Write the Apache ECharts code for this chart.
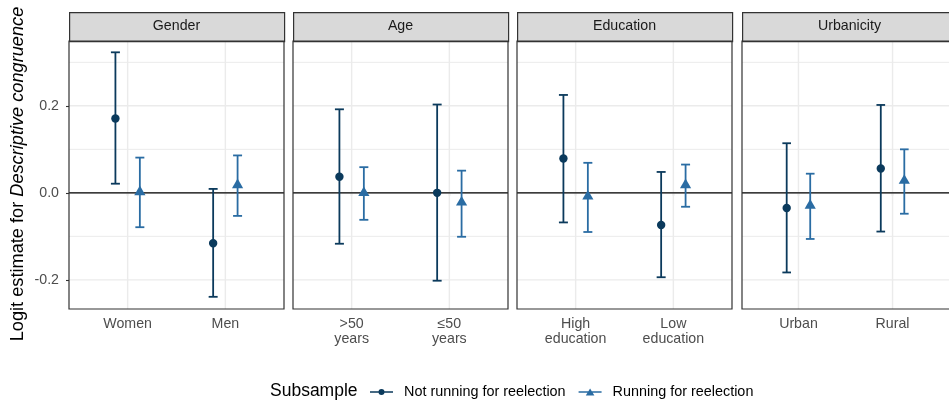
<!DOCTYPE html>
<html>
<head>
<meta charset="utf-8">
<script src="https://cdn.jsdelivr.net/npm/echarts@6/dist/echarts.min.js"></script>
<style>
html,body{margin:0;padding:0;background:#fff;}
#chart{width:949px;height:405px;}
</style>
</head>
<body>
<div id="chart"></div>
<script>
// ---- data ----
const panels = ['Gender', 'Age', 'Education', 'Urbanicity'];
const categories = [
  ['Women', 'Men'],
  ['>50\nyears', '\u226450\nyears'],
  ['High\neducation', 'Low\neducation'],
  ['Urban', 'Rural']
];
const seriesNames = ['Not running for reelection', 'Running for reelection'];
const notRunningEst  = [[0.171, -0.116], [0.037, 0.000], [0.079, -0.074], [-0.035, 0.056]];
const notRunningLow  = [[0.021, -0.239], [-0.117, -0.202], [-0.068, -0.194], [-0.183, -0.089]];
const notRunningHigh = [[0.323, 0.009], [0.192, 0.203], [0.225, 0.048], [0.114, 0.202]];
const runningEst  = [[0.002, 0.018], [0.000, -0.022], [-0.008, 0.018], [-0.029, 0.028]];
const runningLow  = [[-0.079, -0.053], [-0.062, -0.101], [-0.090, -0.032], [-0.106, -0.048]];
const runningHigh = [[0.081, 0.086], [0.059, 0.051], [0.069, 0.065], [0.044, 0.100]];
const majorBreaks = [-0.2, 0, 0.2];
const minorBreaks = [-0.1, 0.1, 0.3];
const yTickLabels = ['-0.2', '0.0', '0.2'];
const refLine = [0];
const yTitle = ['Logit estimate for ', 'Descriptive congruence'];
const legendTitle = 'Subsample';

// ---- style / layout ----
const FONT = 'Liberation Sans, Arial, sans-serif';
const colors = ['#0b3a5c', '#2a6ca3'];
const panelLeft = [69, 293, 517, 742];
const panelW = 215, panelTop = 41, panelH = 268, stripTop = 12;
const yMin = -0.267, yMax = 0.349;
const dodge = 0.125, capHalf = 0.046;

const chart = echarts.init(document.getElementById('chart'), null, {renderer: 'canvas'});

const grids = [], xAxes = [], yAxes = [], series = [], graphics = [];

panels.forEach((p, i) => {
  grids.push({left: panelLeft[i], top: panelTop, width: panelW, height: panelH, show: false});
  xAxes.push({
    type: 'value', gridIndex: i, min: 0.4, max: 2.6,
    axisLine: {show: false},
    splitLine: {show: false},
    axisTick: {show: true, customValues: [1, 2], length: 3, lineStyle: {color: '#333', width: 1.1}},
    axisLabel: {
      customValues: [1, 2], margin: 8, color: '#4d4d4d', fontFamily: FONT, fontSize: 14.2, lineHeight: 15,
      formatter: v => categories[i][Math.round(v) - 1]
    }
  });
  yAxes.push({
    type: 'value', gridIndex: i, min: yMin, max: yMax,
    axisLine: {show: false},
    splitLine: {show: false},
    axisTick: {show: i === 0, customValues: majorBreaks, length: 3, lineStyle: {color: '#333', width: 1.1}},
    axisLabel: {
      show: i === 0, customValues: majorBreaks, margin: 10, color: '#4d4d4d', fontFamily: FONT, fontSize: 14.2,
      formatter: v => {
        let k = 0, best = Infinity;
        majorBreaks.forEach((b, j) => { if (Math.abs(b - v) < best) { best = Math.abs(b - v); k = j; } });
        return yTickLabels[k];
      }
    }
  });

  // grid lines (kind 0: major horizontal, 1: minor horizontal, 2: vertical at categories)
  const gridData = majorBreaks.map(v => [v, 0])
    .concat(minorBreaks.map(v => [v, 1]))
    .concat([1, 2].map(v => [v, 2]));
  series.push({
    type: 'custom', xAxisIndex: i, yAxisIndex: i, z: 1, silent: true,
    data: gridData,
    renderItem: (params, api) => {
      const v = api.value(0), kind = api.value(1);
      const cs = params.coordSys;
      if (kind === 2) {
        const x = api.coord([v, 0])[0];
        return {type: 'line', shape: {x1: x, y1: cs.y, x2: x, y2: cs.y + cs.height},
          style: {stroke: '#ebebeb', lineWidth: 1.4}};
      }
      const y = api.coord([1, v])[1];
      return {type: 'line', shape: {x1: cs.x, y1: y, x2: cs.x + cs.width, y2: y},
        style: {stroke: '#ebebeb', lineWidth: kind === 0 ? 1.4 : 1.0}};
    }
  });
  // reference line at 0
  series.push({
    type: 'custom', xAxisIndex: i, yAxisIndex: i, z: 2, silent: true,
    data: refLine.map(v => [1, v]),
    renderItem: (params, api) => {
      const cs = params.coordSys;
      const y = api.coord([1, api.value(1)])[1];
      return {type: 'line', shape: {x1: cs.x, y1: y, x2: cs.x + cs.width, y2: y},
        style: {stroke: '#000', lineWidth: 1.3}};
    }
  });

  const sets = [
    {est: notRunningEst[i], lo: notRunningLow[i], hi: notRunningHigh[i], off: -dodge, shape: 'circle'},
    {est: runningEst[i], lo: runningLow[i], hi: runningHigh[i], off: dodge, shape: 'triangle'}
  ];
  sets.forEach((s, k) => {
    const color = colors[k];
    series.push({
      type: 'custom', name: seriesNames[k], xAxisIndex: i, yAxisIndex: i, z: 3,
      itemStyle: {color: color},
      encode: {x: 0, y: [1, 2, 3]},
      data: [0, 1].map(j => [j + 1, s.est[j], s.lo[j], s.hi[j]]),
      renderItem: (params, api) => {
        const x = api.value(0) + s.off;
        const est = api.value(1), lo = api.value(2), hi = api.value(3);
        const top = api.coord([x, hi]), bot = api.coord([x, lo]), c = api.coord([x, est]);
        const xl = api.coord([x - capHalf, hi])[0], xr = api.coord([x + capHalf, hi])[0];
        const ls = {stroke: color, lineWidth: 1.8};
        const children = [
          {type: 'line', shape: {x1: top[0], y1: top[1], x2: bot[0], y2: bot[1]}, style: ls},
          {type: 'line', shape: {x1: xl, y1: top[1], x2: xr, y2: top[1]}, style: ls},
          {type: 'line', shape: {x1: xl, y1: bot[1], x2: xr, y2: bot[1]}, style: ls}
        ];
        if (s.shape === 'circle') {
          children.push({type: 'circle', shape: {cx: c[0], cy: c[1], r: 4.2}, style: {fill: color}});
        } else {
          const r = 6.4, yc = 3.2, xc = 5.6;
          children.push({type: 'polygon', shape: {points: [[c[0], c[1] - r], [c[0] + xc, c[1] + yc], [c[0] - xc, c[1] + yc]]},
            style: {fill: color}});
        }
        return {type: 'group', children: children};
      }
    });
  });

  // strip
  graphics.push({
    type: 'rect', left: panelLeft[i], top: stripTop, z: 10,
    shape: {x: 0, y: 0, width: panelW, height: panelTop - stripTop},
    style: {fill: '#d9d9d9', stroke: '#333', lineWidth: 1.2}
  });
  graphics.push({
    type: 'text', z: 11, x: panelLeft[i] + panelW / 2, y: (stripTop + panelTop) / 2,
    style: {text: p, fill: '#1a1a1a', font: '14.2px ' + FONT, align: 'center', verticalAlign: 'middle'}
  });
  // panel border
  graphics.push({
    type: 'rect', z: 10, x: panelLeft[i], y: panelTop,
    shape: {x: 0, y: 0, width: panelW, height: panelH},
    style: {fill: null, stroke: '#333', lineWidth: 1.2}
  });
});

// y-axis title
graphics.push({
  type: 'text', z: 11, x: 18, y: 174, rotation: Math.PI / 2,
  style: {
    text: '{a|' + yTitle[0] + '}{b|' + yTitle[1] + '}',
    align: 'center', verticalAlign: 'middle',
    rich: {
      a: {fontFamily: FONT, fontSize: 18.2, fill: '#000', color: '#000'},
      b: {fontFamily: FONT, fontSize: 18.2, fontStyle: 'italic', fill: '#000', color: '#000'}
    }
  }
});
// legend title
graphics.push({
  type: 'text', z: 11, x: 270, y: 391,
  style: {text: legendTitle, fill: '#000', font: '17.5px ' + FONT, align: 'left', verticalAlign: 'middle'}
});

const iconCircle = 'path://M0,3.3H23V4.7H0Z M11.5,1A3,3,0,1,1,11.5,7A3,3,0,1,1,11.5,1Z';
const iconTri = 'path://M0,3.3H23V4.7H0Z M11.5,0.4L15.8,7.6H7.2Z';

chart.setOption({
  animation: false,
  backgroundColor: '#fff',
  grid: grids,
  xAxis: xAxes,
  yAxis: yAxes,
  series: series,
  graphic: graphics,
  legend: {
    left: 365, top: 380, selectedMode: false,
    itemWidth: 23, itemHeight: 8, itemGap: 13,
    textStyle: {fontFamily: FONT, fontSize: 14.4, color: '#000', padding: [0, 0, 0, 6]},
    data: [
      {name: seriesNames[0], icon: iconCircle},
      {name: seriesNames[1], icon: iconTri}
    ]
  }
});
</script>
</body>
</html>
